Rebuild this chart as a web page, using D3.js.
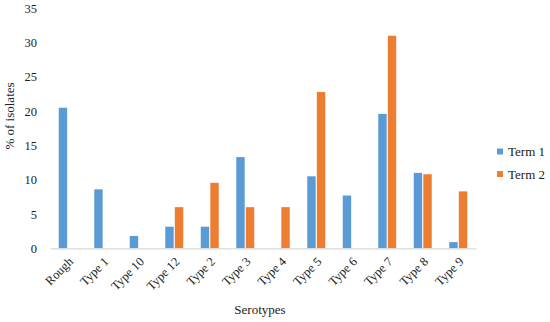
<!DOCTYPE html>
<html lang="en">
  <head>
    <meta charset="UTF-8" />
    <title>Serotypes by term</title>
    <script src="https://d3js.org/d3.v7.min.js"></script>
    <style>
      body { margin: 0; background: #fff; }
      svg text { fill: #222; }
    </style>
  </head>
  <body>
    <svg id="chart" width="550" height="322"></svg>
    <script>
      // data
      const categories = ["Rough", "Type 1", "Type 10", "Type 12", "Type 2", "Type 3",
        "Type 4", "Type 5", "Type 6", "Type 7", "Type 8", "Type 9"];
      const term1 = [20.5, 8.6, 1.8, 3.15, 3.15, 13.3, 0, 10.5, 7.7, 19.6, 11.0, 0.9];
      const term2 = [0, 0, 0, 6.0, 9.55, 6.0, 6.0, 22.8, 0, 31.0, 10.8, 8.3];
      const seriesNames = ["Term 1", "Term 2"];
      const yTicks = [0, 5, 10, 15, 20, 25, 30, 35];

      const font = "'Liberation Serif', 'Times New Roman', serif";
      const colors = ["#5B9BD5", "#ED7D31"];
      const svg = d3.select("#chart").attr("font-family", font);

      const x = d3.scaleBand().domain(categories).range([50, 476]);
      const inner = d3.scaleBand().domain(seriesNames).range([0, 18]).paddingInner(0.12);
      const y = d3.scaleLinear().domain([0, 35]).range([248.3, 8.3]);

      // y axis labels, no line
      const yAxis = svg.append("g")
        .attr("transform", "translate(37,0)")
        .call(d3.axisLeft(y).tickValues(yTicks).tickSize(0).tickPadding(0))
        .attr("font-family", font)
        .attr("font-size", 12.5);
      yAxis.select(".domain").remove();

      const rows = categories.map((c, i) => ({ cat: c, vals: [term1[i], term2[i]] }));

      svg.append("g")
        .selectAll("g")
        .data(rows)
        .join("g")
        .attr("transform", (d) => `translate(${x(d.cat) + (x.bandwidth() - 18) / 2},0)`)
        .selectAll("rect")
        .data((d) => d.vals.map((v, k) => ({ v, k })))
        .join("rect")
        .attr("x", (d) => inner(seriesNames[d.k]))
        .attr("width", inner.bandwidth())
        .attr("y", (d) => y(d.v))
        .attr("height", (d) => y(0) - y(d.v))
        .attr("fill", (d) => colors[d.k]);

      // x axis
      const xAxis = svg.append("g")
        .attr("transform", `translate(0,${y(0)})`)
        .call(d3.axisBottom(x).tickSize(0).tickPadding(0))
        .attr("font-family", font)
        .attr("font-size", 12.5);
      xAxis.select(".domain").attr("stroke", "#d9d9d9").attr("stroke-width", 1.2);
      xAxis.selectAll("text")
        .attr("text-anchor", "end")
        .attr("dy", "0.35em")
        .attr("transform", "translate(3,11) rotate(-45)");

      // axis titles
      svg.append("text")
        .attr("x", 260).attr("y", 314)
        .attr("text-anchor", "middle")
        .attr("font-size", 13)
        .text("Serotypes");

      svg.append("text")
        .attr("transform", "translate(14,116) rotate(-90)")
        .attr("text-anchor", "middle")
        .attr("font-size", 13)
        .text("% of isolates");

      // legend
      const legend = svg.append("g")
        .selectAll("g")
        .data(seriesNames)
        .join("g")
        .attr("transform", (d, i) => `translate(497,${151.5 + i * 22.5})`);
      legend.append("rect")
        .attr("x", 0).attr("y", -3)
        .attr("width", 6).attr("height", 6)
        .attr("fill", (d, i) => colors[i]);
      legend.append("text")
        .attr("x", 11).attr("dy", "0.35em")
        .attr("font-size", 13)
        .text((d) => d);
    </script>
  </body>
</html>
